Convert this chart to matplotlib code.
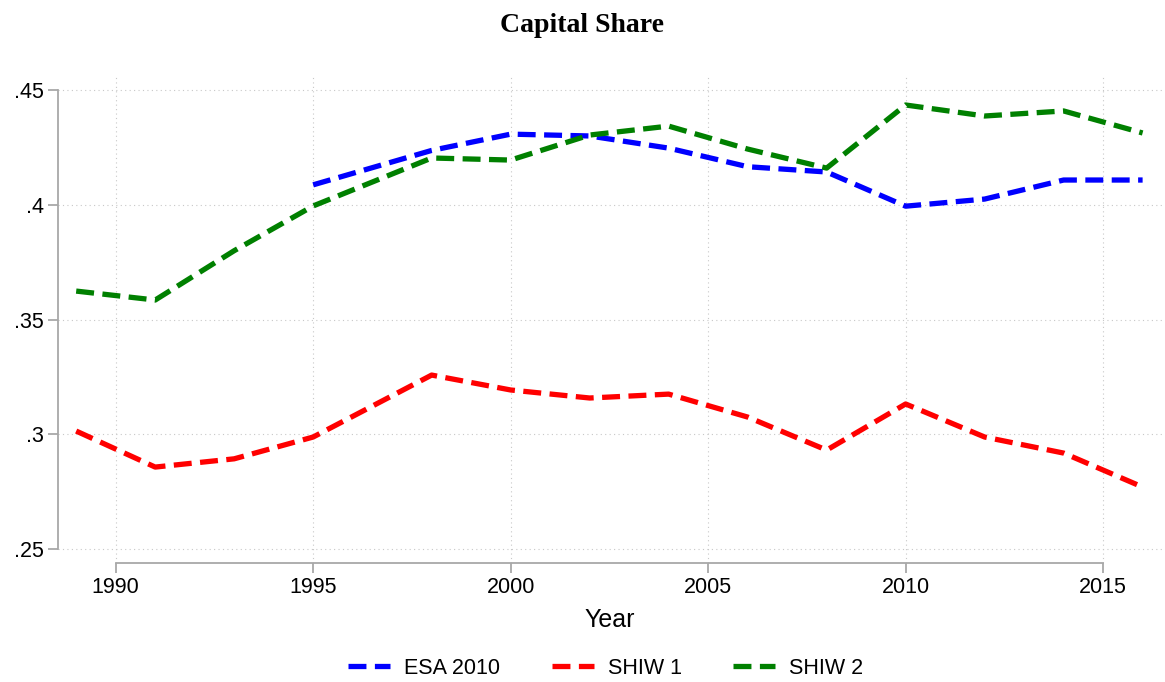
import matplotlib
matplotlib.use('Agg')
import matplotlib.pyplot as plt

plt.rcParams['font.family'] = ['Liberation Sans', 'DejaVu Sans']

# survey years
years = [1989, 1991, 1993, 1995, 1998, 2000, 2002, 2004, 2006, 2008, 2010, 2012, 2014, 2016]
esa_years = [1995, 1998, 2000, 2002, 2004, 2006, 2008, 2010, 2012, 2014, 2016]

esa2010 = [0.4087, 0.4237, 0.4308, 0.4300, 0.4247, 0.4166, 0.4143, 0.3994, 0.4025, 0.4108, 0.4108]
shiw1 = [0.3014, 0.2857, 0.2893, 0.2988, 0.3258, 0.3193, 0.3158, 0.3175, 0.3075, 0.2931, 0.3132, 0.2988, 0.2918, 0.2770]
shiw2 = [0.3624, 0.3585, 0.3800, 0.3995, 0.4204, 0.4195, 0.4304, 0.4343, 0.4243, 0.4160, 0.4435, 0.4387, 0.4409, 0.4313]

yticks = [0.25, 0.3, 0.35, 0.4, 0.45]
ytick_labels = ['.25', '.3', '.35', '.4', '.45']
xticks = [1990, 1995, 2000, 2005, 2010, 2015]

fig = plt.figure(figsize=(11.65, 6.82), dpi=100)
ax = fig.add_axes([0.0498, 0.1745, 0.9476, 0.7126])

dash = (3.4, 1.6)
ax.plot(esa_years, esa2010, color='#0000ff', lw=3.8, dashes=dash, label='ESA 2010')
ax.plot(years, shiw1, color='#ff0000', lw=3.8, dashes=dash, label='SHIW 1')
ax.plot(years, shiw2, color='#008000', lw=3.8, dashes=dash, label='SHIW 2')

ax.set_xlim(1988.54, 2016.49)
ax.set_ylim(0.2439, 0.4557)
ax.set_xticks(xticks)
ax.set_yticks(yticks)
ax.set_yticklabels(ytick_labels)

ax.grid(True, color='#c8c8c8', lw=0.8, linestyle=(0, (1, 3)))
for s in ['top', 'right']:
    ax.spines[s].set_visible(False)
ax.spines['left'].set_bounds(0.25, 0.45)
ax.spines['bottom'].set_bounds(1990, 2015)
for s in ['left', 'bottom']:
    ax.spines[s].set_color('#a8a8a8')
    ax.spines[s].set_linewidth(1.3)
ax.tick_params(axis='both', color='#a8a8a8', width=1.3, length=7, labelsize=15.5, pad=3)

ax.set_xlabel('Year', fontsize=18, labelpad=7)

fig.text(0.5, 1 - 25 / 682, 'Capital Share', ha='center', va='center',
         fontsize=20, fontweight='bold', family=['Liberation Serif', 'DejaVu Serif'])

fig.legend(loc='center', bbox_to_anchor=(0.52, 1 - 668 / 682), ncol=3, frameon=False,
           fontsize=15.5, handlelength=1.95, handletextpad=0.65, columnspacing=2.4)

fig.savefig('out.png', dpi=100)
